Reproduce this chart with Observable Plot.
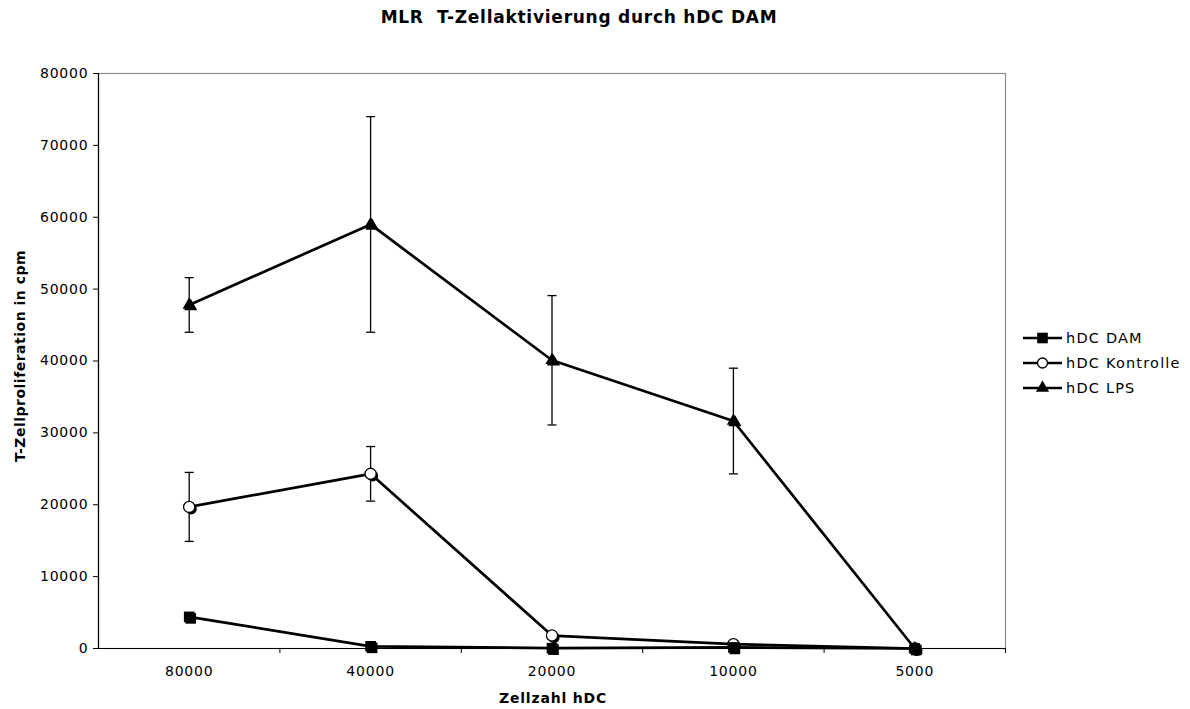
<!DOCTYPE html>
<html>
<head>
<meta charset="utf-8">
<script src="https://cdn.jsdelivr.net/npm/d3@7"></script>
<script src="https://cdn.jsdelivr.net/npm/@observablehq/plot@0.6"></script>
<style>
  body { margin: 0; background: #fff; }
  #wrap { position: relative; width: 1190px; height: 709px; font-family: "DejaVu Sans", Verdana, sans-serif; color: #000; }
  #title { position: absolute; top: 7px; left: 274px; width: 610px; text-align: center; font-weight: bold; font-size: 17px; letter-spacing: 0.75px; white-space: nowrap; }
  #xlabel { position: absolute; top: 690px; left: 453px; width: 200px; text-align: center; font-weight: bold; font-size: 14px; letter-spacing: 0.8px; }
  #ylabel { position: absolute; left: 20px; top: 356px; transform: translate(-50%, -50%) rotate(-90deg); font-weight: bold; font-size: 14px; letter-spacing: 0.5px; white-space: nowrap; }
  #legend { position: absolute; left: 1023px; top: 325px; font-size: 14.5px; letter-spacing: 1.2px; }
  #legend .row { display: flex; align-items: center; height: 25px; }
  #legend svg { margin-right: 4px; }
  #chart { position: absolute; left: 0; top: 0; }
</style>
</head>
<body>
<div id="wrap">
  <div id="chart"></div>
  <div id="title">MLR&nbsp; T-Zellaktivierung durch hDC DAM</div>
  <div id="xlabel">Zellzahl hDC</div>
  <div id="ylabel">T-Zellproliferation in cpm</div>
  <div id="legend"></div>
</div>
<script>
// Number of hDC per well (x categories, left to right)
const categories = ["80000", "40000", "20000", "10000", "5000"];

// T-cell proliferation (cpm), mean and error per series
const damValues = [4400, 300, 50, 150, 0];
const kontrolleValues = [19700, 24300, 1800, 600, 0];
const kontrolleErrors = [4800, 3800, 0, 0, 0];
const lpsValues = [47800, 59000, 40100, 31650, 0];
const lpsErrors = [3800, 15000, 9000, 7350, 0];

const yTicks = [0, 10000, 20000, 30000, 40000, 50000, 60000, 70000, 80000];

const seriesNames = ["hDC DAM", "hDC Kontrolle", "hDC LPS"];

function rows(name, values, errors) {
  return values.map((v, i) => ({
    series: name, i, value: v,
    lo: errors ? v - errors[i] : v,
    hi: errors ? v + errors[i] : v,
    err: errors ? errors[i] : 0
  }));
}
const dam = rows(seriesNames[0], damValues, null);
const kontrolle = rows(seriesNames[1], kontrolleValues, kontrolleErrors);
const lps = rows(seriesNames[2], lpsValues, lpsErrors);
const withErrors = [...kontrolle, ...lps].filter(d => d.err > 0);

// Horizontal cap for error bars
const capSymbol = {
  draw(ctx, size) {
    const w = 4.5;
    ctx.moveTo(-w, 0);
    ctx.lineTo(w, 0);
  }
};

const lineStyle = { x: "i", y: "value", stroke: "#000", strokeWidth: 2.7, strokeLinejoin: "round" };

const chart = Plot.plot({
  width: 1190,
  height: 709,
  marginLeft: 98,
  marginRight: 185,
  marginTop: 73,
  marginBottom: 61,
  style: { fontFamily: "DejaVu Sans, Verdana, sans-serif", fontSize: "14px", color: "#000", background: "#fff", letterSpacing: "0.8px" },
  x: { domain: [-0.5, categories.length - 0.5] },
  y: { domain: [0, 80000] },
  marks: [
    // plot area border (top/right grey)
    Plot.frame({ stroke: "#8c8c8c", strokeWidth: 1.2 }),
    // error bars
    Plot.ruleX(withErrors, { x: "i", y1: "lo", y2: "hi", stroke: "#000", strokeWidth: 1.3 }),
    Plot.dot(withErrors, { x: "i", y: "hi", symbol: capSymbol, stroke: "#000", strokeWidth: 1.3, fill: "none" }),
    Plot.dot(withErrors, { x: "i", y: "lo", symbol: capSymbol, stroke: "#000", strokeWidth: 1.3, fill: "none" }),
    // series lines
    Plot.line(lps, lineStyle),
    Plot.line(kontrolle, lineStyle),
    Plot.line(dam, lineStyle),
    // marker shadows
    Plot.dot(lps, { x: "i", y: "value", symbol: "triangle", r: 4.9, fill: "#000", dx: 1.5, dy: 1.5 }),
    Plot.dot(kontrolle, { x: "i", y: "value", symbol: "circle", r: 5.6, fill: "#000", dx: 2, dy: 2 }),
    Plot.dot(dam, { x: "i", y: "value", symbol: "square", r: 6, fill: "#000", dx: 1.5, dy: 1.5 }),
    // markers
    Plot.dot(lps, { x: "i", y: "value", symbol: "triangle", r: 4.9, fill: "#000" }),
    Plot.dot(kontrolle, { x: "i", y: "value", symbol: "circle", r: 5.6, fill: "#fff", stroke: "#000", strokeWidth: 1.3 }),
    Plot.dot(dam, { x: "i", y: "value", symbol: "square", r: 6, fill: "#000" }),
    // axes
    Plot.axisY({ ticks: yTicks, tickSize: 5, tickPadding: 5, tickFormat: d3.format("d"), label: null, stroke: "#000" }),
    Plot.axisX({ ticks: d3.range(categories.length), tickSize: 0, tickPadding: 18, tickFormat: i => categories[i], label: null }),
    Plot.axisX({ ticks: d3.range(categories.length).map(i => i + 0.5), tickSize: 5, tickFormat: () => "", label: null, stroke: "#000" }),
    Plot.ruleX([-0.5], { stroke: "#000", strokeWidth: 1.2 }),
    Plot.ruleY([0], { stroke: "#000", strokeWidth: 1.2 })
  ]
});
document.getElementById("chart").appendChild(chart);

// Legend: line with centred marker, then the series name
const legendSymbols = [
  { name: seriesNames[0], type: d3.symbolSquare, size: Math.PI * 36, fill: "#000", stroke: "none" },
  { name: seriesNames[1], type: d3.symbolCircle, size: Math.PI * 25, fill: "#fff", stroke: "#000" },
  { name: seriesNames[2], type: d3.symbolTriangle, size: Math.PI * 24, fill: "#000", stroke: "none" }
];
const legend = d3.select("#legend");
legendSymbols.forEach(s => {
  const row = legend.append("div").attr("class", "row");
  const svg = row.append("svg").attr("width", 39).attr("height", 16);
  svg.append("line").attr("x1", 0).attr("x2", 39).attr("y1", 8).attr("y2", 8)
    .attr("stroke", "#000").attr("stroke-width", 2.7);
  svg.append("path").attr("d", d3.symbol(s.type, s.size)())
    .attr("transform", "translate(19.5,8)")
    .attr("fill", s.fill).attr("stroke", s.stroke).attr("stroke-width", 1.3);
  row.append("span").text(s.name);
});
</script>
</body>
</html>
